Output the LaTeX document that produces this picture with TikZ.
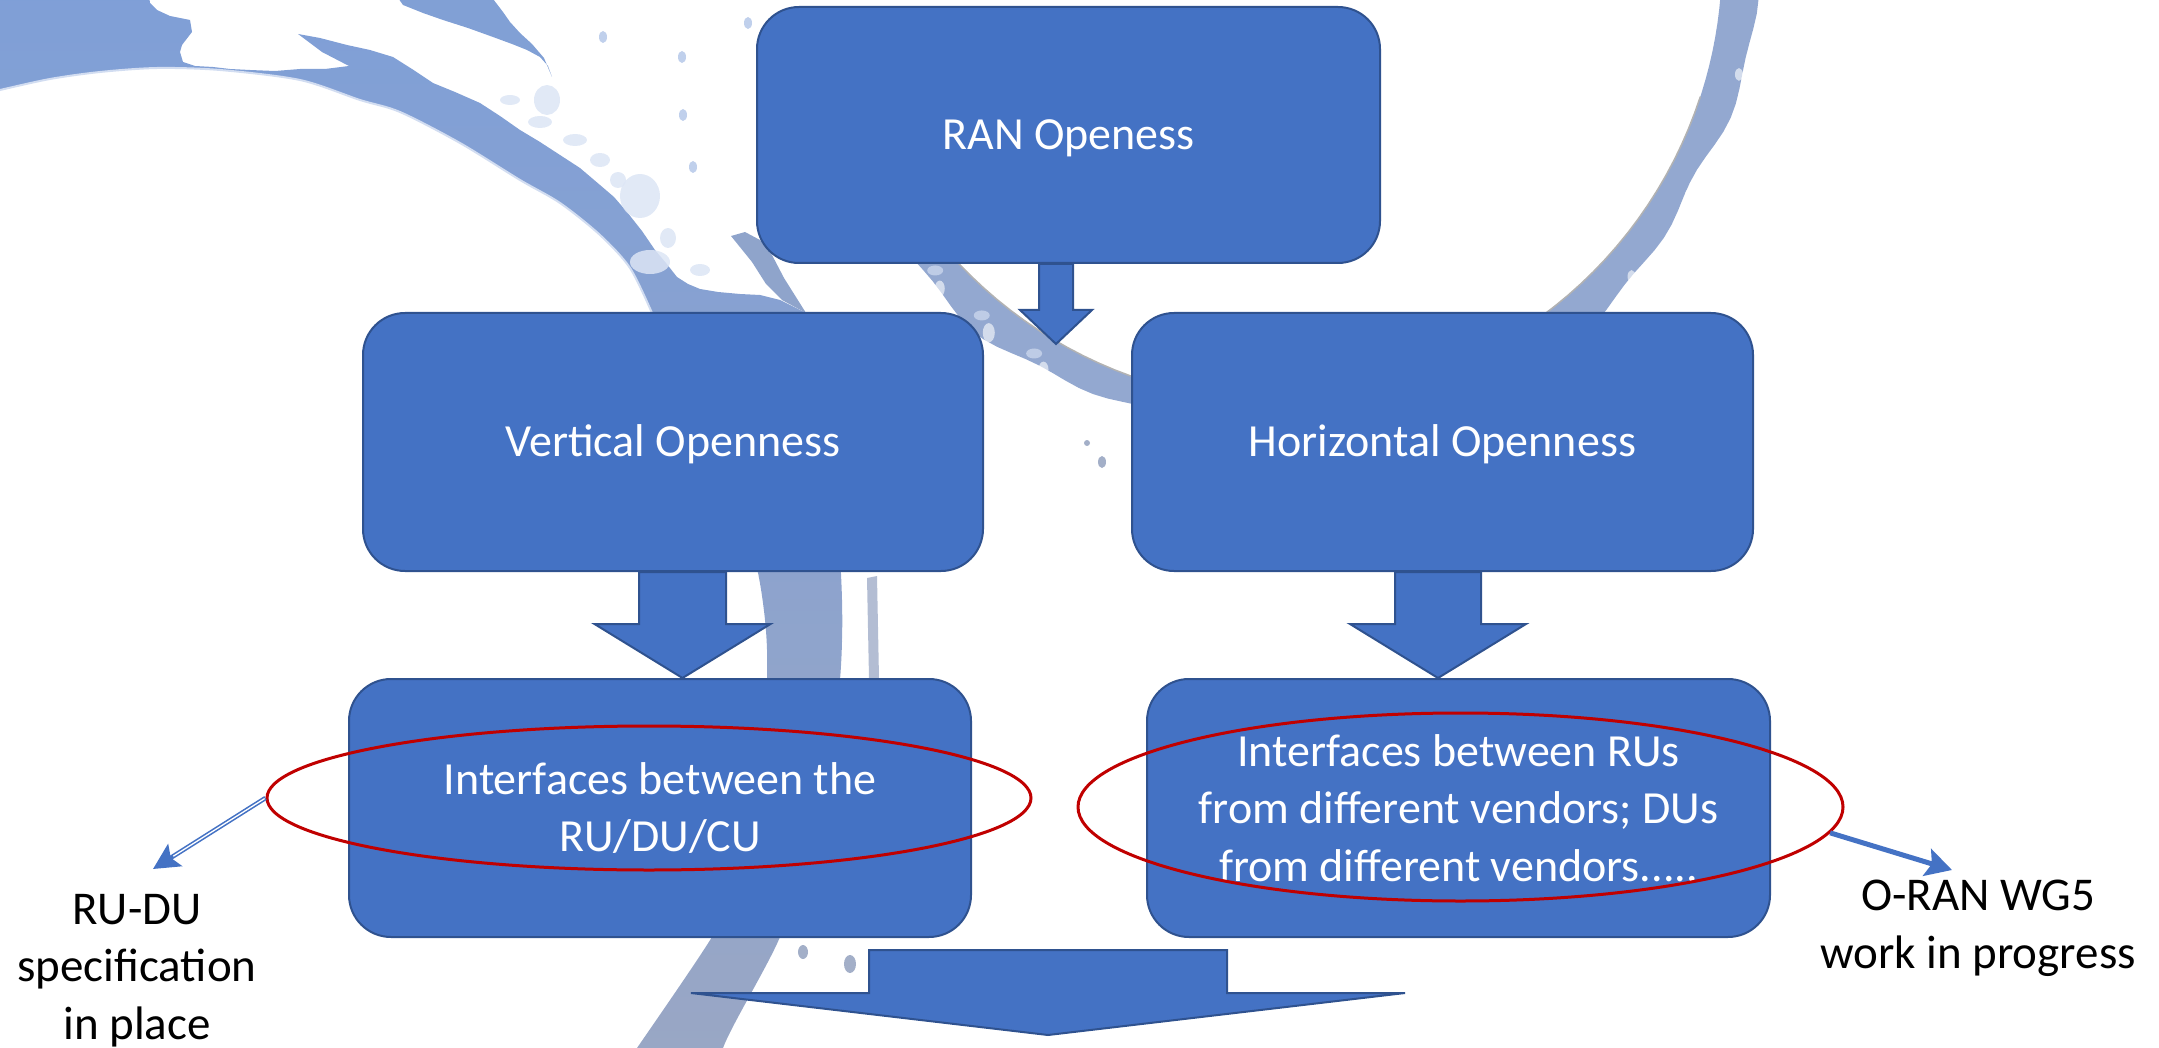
\documentclass[tikz,border=0pt]{standalone}
\usepackage{fontspec}
\setmainfont{Carlito}
\usetikzlibrary{shapes.geometric,arrows.meta,calc}

\definecolor{boxblue}{HTML}{4472C4}
\definecolor{boxedge}{HTML}{2F528F}
\definecolor{ovalred}{HTML}{C00000}
\definecolor{ringtop}{HTML}{7F9FD7}
\definecolor{ringlow}{HTML}{9AA7C4}
\definecolor{ringright}{HTML}{93A8D0}
\definecolor{speck}{HTML}{DCE5F5}
\definecolor{speckgray}{HTML}{A3AFC8}

\tikzset{
  panel/.style={draw=boxedge, line width=2pt, fill=boxblue, rounded corners=42pt,
    text=white, font=\fontsize{46}{57.5}\selectfont, align=center, inner sep=0pt},
  oneline/.style={text height=29pt, text depth=0pt},
  barrow/.style={draw=boxedge, line width=2pt, fill=boxblue, line join=miter},
  oval/.style={ellipse, draw=ovalred, line width=3pt, inner sep=0pt},
  note/.style={text=black, font=\fontsize{47}{57.5}\selectfont, align=center, inner sep=0pt},
  pointer/.style={draw=boxblue, line width=5pt,
    -{Stealth[length=26pt, width=28pt, inset=5pt]}},
}

% block arrow: #1 start, #2 tip, #3 half shaft width, #4 half head width, #5 head length
\newcommand\blockarrow[5]{%
  \draw[barrow] let \p1=(#1), \p2=(#2) in
    (\x1-#3pt,\y1) -- (\x1+#3pt,\y1) -- (\x1+#3pt,\y2+#5pt) -- (\x1+#4pt,\y2+#5pt)
    -- (\x1,\y2) -- (\x1-#4pt,\y2+#5pt) -- (\x1-#3pt,\y2+#5pt) -- cycle;}

\begin{document}
\begin{tikzpicture}[x=1pt,y=-1pt]
\useasboundingbox (0,0) rectangle (2159,1048);

% ---------- watercolour rings in the background ----------
\begin{scope}
\clip (0,0) rectangle (2159,1048);

% large ring on the left: main band, its upper edge torn by a white splash
\shade[top color=ringtop, bottom color=ringlow]
  plot[smooth, tension=0.5] coordinates {(-20,95) (0,90) (50,79) (100,72) (157,68)
    (220,70) (300,80) (360,100) (400,112) (460,143) (520,180) (560,203) (600,235)
    (630,268) (652,313) (690,400) (730,490) (755,560) (765,620) (767,679)
    (760,800) (740,880) (712,937) (637,1048) (600,1100)}
  -- plot[smooth, tension=0.5] coordinates {(720,1100) (723,1048) (780,937) (815,830)
    (838,700) (842,600) (832,460) (806,313)}
  -- (780,300) -- (760,295) -- (740,294) -- (718,292) -- (700,289) -- (688,284)
  -- (677,277) -- (666,263) -- (655,250) -- (642,231) -- (627,212) -- (614,197)
  -- (600,185) -- (580,168) -- (560,155) -- (540,142) -- (520,130) -- (500,116)
  -- (480,103) -- (455,92) -- (433,83) -- (412,69) -- (393,57) -- (370,50)
  -- (347,45) -- (320,38) -- (298,34) -- (322,52) -- (349,66) -- (325,69)
  -- (300,69) -- (275,71) -- (250,70) -- (230,69) -- (213,67) -- (195,66)
  -- (183,62) -- (180,52) -- (182,45) -- (192,32) -- (190,20) -- (170,16)
  -- (157,10) -- (150,3) -- (147,-20) -- (-20,-20) -- cycle;
% outer strip beyond the splash
\fill[ringtop!92!ringlow] (396,-5) -- (403,5) -- (423,13) -- (443,20) -- (468,28)
  -- (493,37) -- (512,44) -- (527,50) -- (540,57) -- (548,66) -- (552,77)
  -- (544,58) -- (532,44) -- (520,33) -- (510,22) -- (503,12) -- (490,-5) -- cycle;
% small tongue by the lower end of the splash
\fill[ringlow!60!ringtop] (731,236) -- (745,232) -- (760,240) -- (772,255)
  -- (784,278) -- (806,313) -- (782,300) -- (766,284) -- (752,262) -- cycle;
% soft highlight along the inner edge
\draw[white!65!ringtop, line width=2pt]
  plot[smooth, tension=0.5] coordinates {(-20,95) (0,90) (50,79) (100,72) (157,68)
    (220,70) (300,80) (360,100) (400,112) (460,143) (520,180) (560,203) (600,235)
    (630,268) (652,313)};
% faint mottled wash beside the band
\foreach \px/\py/\rx/\ry in {547/100/13/15, 510/100/10/5, 540/122/12/6, 575/140/12/6,
    600/160/10/7, 640/196/20/22, 618/180/8/8, 650/262/20/12, 668/238/8/10, 700/270/10/6}
  \fill[speck, opacity=0.85] (\px,\py) ellipse[x radius=\rx, y radius=\ry];
\foreach \px/\py in {603/37, 682/57, 683/115, 693/167, 748/23}
  \fill[speck!70!ringtop] (\px,\py) ellipse[x radius=4, y radius=6];
% faint strip and specks along the outer side further down
\fill[ringlow!75!white] (867,578) -- (877,576) -- (879,679) -- (869,679) -- cycle;
\foreach \px/\py/\r in {848/600/4, 846/640/4, 852/662/3, 786/960/4, 772/1000/4}
  \fill[white, opacity=0.7] (\px,\py) circle[radius=\r];
\fill[speckgray] (803,952) ellipse[x radius=5, y radius=7];
\fill[speckgray] (850,964) ellipse[x radius=6, y radius=9];

% ring on the right
\fill[ringright]
  plot[domain=-12:152, samples=90] ({1280+442*cos(\x)},{-40+442*sin(\x)})
  -- plot[domain=152:-12, samples=90]
     ({1280+(474+5*sin(9*\x)+3*sin(23*\x))*cos(\x)},
      {-40+(474+5*sin(9*\x)+3*sin(23*\x))*sin(\x)})
  -- cycle;
\draw[gray!60, line width=1.5pt]
  plot[domain=18:150, samples=60] ({1280+442*cos(\x)},{-40+442*sin(\x)});
\foreach \a/\r in {14/4, 30/5, 42/4, 120/5, 128/6, 136/5, 143/6}
  \fill[white, opacity=0.6] ({1280+473*cos(\a)},{-40+473*sin(\a)})
    ellipse[x radius=\r, y radius=1.6*\r];
\foreach \a in {122, 130, 138, 145}
  \fill[speck, opacity=0.6] ({1280+464*cos(\a)},{-40+464*sin(\a)})
    ellipse[x radius=8, y radius=5];
\fill[speckgray] (1087,443) circle[radius=3];
\fill[speckgray] (1102,462) ellipse[x radius=4, y radius=6];
\end{scope}

% ---------- boxes ----------
\node[panel, oneline, minimum width=623pt, minimum height=256pt] (ran) at (1068.5,135) {RAN Openess};
\node[panel, oneline, minimum width=620pt, minimum height=258pt] (vert) at (673,442) {Vertical Openness};
\node[panel, oneline, minimum width=621pt, minimum height=258pt] (horz) at (1442.5,442) {Horizontal Openness};
\node[panel, minimum width=622pt, minimum height=258pt] (lowl) at (660,808)
  {Interfaces between the\\RU/DU/CU};
\node[panel, minimum width=623pt, minimum height=258pt] (lowr) at (1458.5,808)
  {Interfaces between RUs\\from different vendors; DUs\\from different vendors.....};

% ---------- block arrows ----------
\coordinate (t1) at (1056,344);
\blockarrow{ran.south -| t1}{t1}{17}{36}{34}
\coordinate (t2) at ($(lowl.north)+(22.5,0)$);
\blockarrow{vert.south -| t2}{t2}{43.5}{88}{54}
\coordinate (t3) at ($(lowr.north)+(-20.5,0)$);
\blockarrow{horz.south -| t3}{t3}{43}{88}{54}
\coordinate (b0) at (1048,950);
\coordinate (b1) at (1048,1035);
\blockarrow{b0}{b1}{179}{357}{42}

% ---------- red ovals ----------
\node[oval, minimum width=764pt, minimum height=144pt] (eL) at (649,798) {};
\node[oval, minimum width=765pt, minimum height=188pt] (eR) at (1460.5,807) {};

% ---------- pointers and notes ----------
\coordinate (tipL) at (153,869);
\draw[boxblue, line width=4.5pt, -{Stealth[length=26pt, width=26pt, inset=5pt]}]
  (eL.west) -- (tipL);
\draw[white, line width=1.3pt, shorten >=24pt, shorten <=1pt] (eL.west) -- (tipL);
\coordinate (tipR) at (1952,870);
\draw[pointer] (eR.-4) -- (tipR);

% the base anchor of a multi-line note sits on its last line
\node[note, anchor=base] (specnote) at (137,1039) {RU-DU\\specification\\in place};
\node[note, anchor=base] (wgnote) at (1978,968) {O-RAN WG5\\work in progress};
\end{tikzpicture}
\end{document}
